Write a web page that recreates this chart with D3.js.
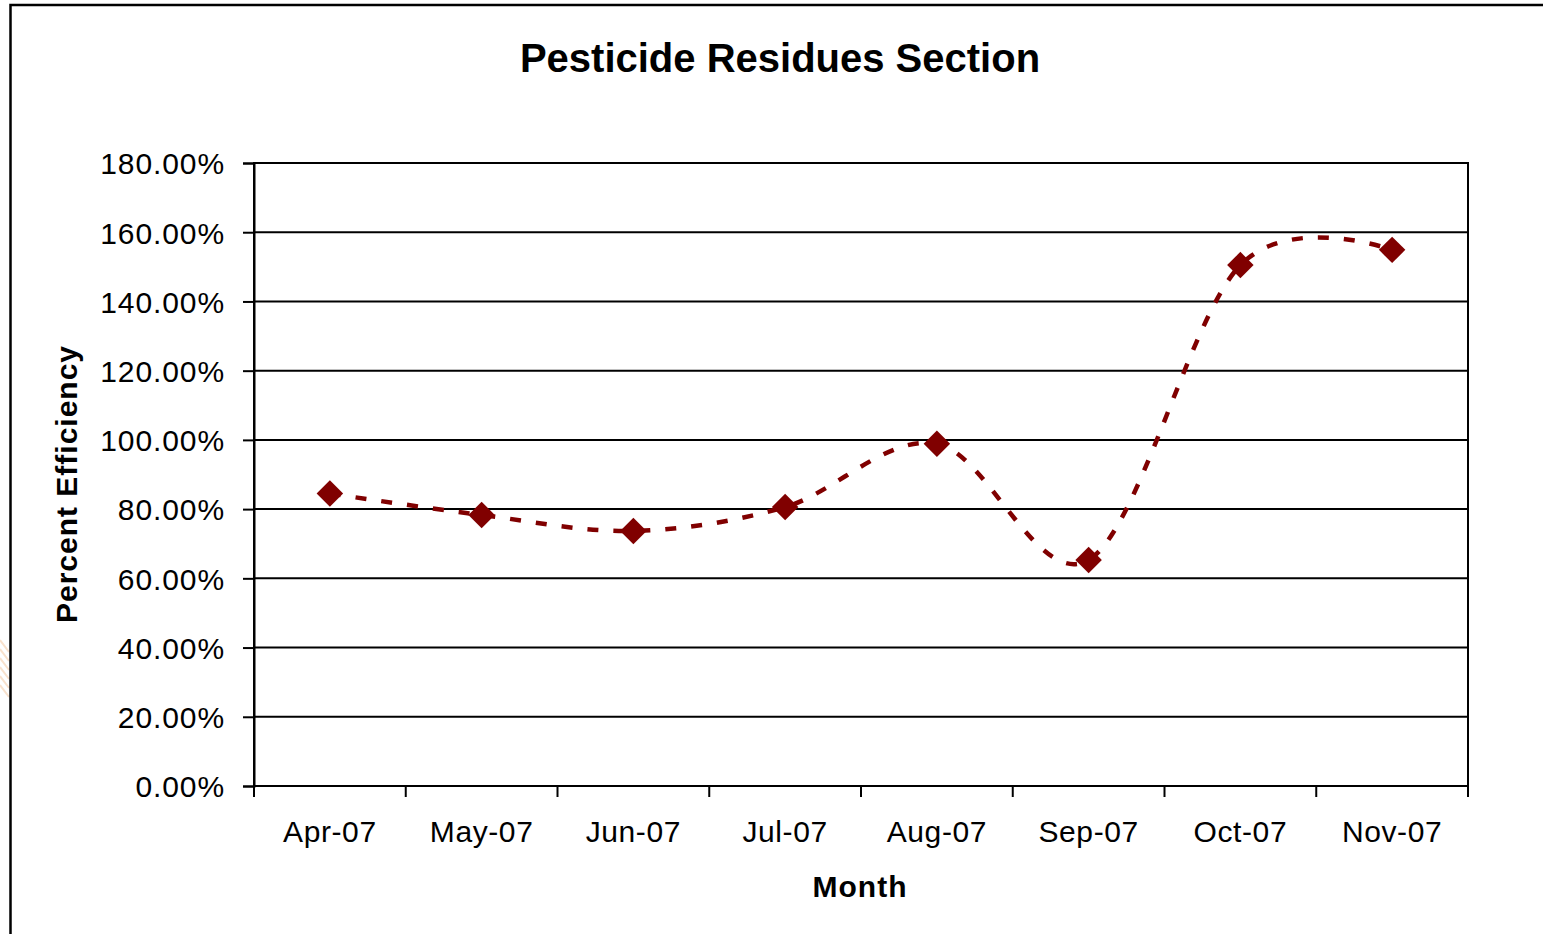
<!DOCTYPE html>
<html>
<head>
<meta charset="utf-8">
<script src="https://cdn.jsdelivr.net/npm/d3@7"></script>
<style>
  html, body { margin: 0; padding: 0; background: #fff; }
  svg { display: block; font-family: "Liberation Sans", Arial, sans-serif; }
</style>
</head>
<body>
<svg id="chart" width="1543" height="934"></svg>
<script>
// Monthly efficiency of the pesticide residues section (percent)
const months = ["Apr-07", "May-07", "Jun-07", "Jul-07", "Aug-07", "Sep-07", "Oct-07", "Nov-07"];
const efficiency = [84.5, 78.3, 73.7, 80.6, 98.9, 65.3, 150.5, 154.9];
const yTicks = [0, 20, 40, 60, 80, 100, 120, 140, 160, 180];

const svg = d3.select("#chart");
const W = 1543, H = 934;
const plot = { left: 254, right: 1468, top: 163, bottom: 786 };
const lineColor = "#800000";

svg.append("rect").attr("width", W).attr("height", H).attr("fill", "#fff");

// Faint decorative streaks of the slide background peeking in at the left edge
const streaks = d3.range(6);
svg.append("g").selectAll("line").data(streaks).join("line")
  .attr("x1", 0).attr("x2", 9)
  .attr("y1", d => 640 + d * 9).attr("y2", d => 652 + d * 9)
  .attr("stroke", "#f3c9a3").attr("stroke-width", 2).attr("opacity", 0.55);

// Outer chart frame (right and bottom edges run off the page)
svg.append("path")
  .attr("d", `M10.5,${H + 2} L10.5,5 L${W + 2},5`)
  .attr("fill", "none").attr("stroke", "#000").attr("stroke-width", 2.5);

const x = d3.scaleBand().domain(months).range([plot.left, plot.right]).padding(0);
const y = d3.scaleLinear().domain([0, 180]).range([plot.bottom, plot.top]);

// Horizontal gridlines
svg.append("g").selectAll("line").data(yTicks).join("line")
  .attr("x1", plot.left).attr("x2", plot.right)
  .attr("y1", d => y(d)).attr("y2", d => y(d))
  .attr("stroke", "#000").attr("stroke-width", 2);

// Plot-area frame
svg.append("rect")
  .attr("x", plot.left).attr("y", plot.top)
  .attr("width", plot.right - plot.left).attr("height", plot.bottom - plot.top)
  .attr("fill", "none").attr("stroke", "#000").attr("stroke-width", 2);

// Y axis
const yAxis = svg.append("g")
  .attr("transform", `translate(${plot.left},0)`)
  .call(d3.axisLeft(y).tickValues(yTicks).tickSize(11).tickPadding(18)
    .tickFormat(d => d.toFixed(2) + "%"));
yAxis.select(".domain").attr("stroke", "#000").attr("stroke-width", 2);
yAxis.selectAll(".tick line").attr("stroke", "#000").attr("stroke-width", 2);
yAxis.selectAll(".tick text")
  .attr("fill", "#000").attr("font-size", 30).attr("dy", "0.36em")
  .style("letter-spacing", "0.9px")
  .attr("font-family", "'Liberation Sans', Arial, sans-serif");

// X axis: tick marks on category boundaries, labels at category centres
const boundaries = months.map(m => x(m)).concat([x.range()[1]]);
svg.append("g").selectAll("line").data(boundaries).join("line")
  .attr("x1", d => d).attr("x2", d => d)
  .attr("y1", plot.bottom).attr("y2", plot.bottom + 11)
  .attr("stroke", "#000").attr("stroke-width", 2);
svg.append("g").selectAll("text").data(months).join("text")
  .attr("x", d => x(d) + x.bandwidth() / 2)
  .attr("y", 842)
  .attr("text-anchor", "middle")
  .attr("font-size", 30)
  .style("letter-spacing", "0.6px")
  .text(d => d);

// Smoothed dashed series line
const line = d3.line()
  .x((d, i) => x(months[i]) + x.bandwidth() / 2)
  .y(d => y(d))
  .curve(d3.curveCardinal.tension(0));
svg.append("path")
  .datum(efficiency)
  .attr("d", line)
  .attr("fill", "none")
  .attr("stroke", lineColor)
  .attr("stroke-width", 4.5)
  .attr("stroke-dasharray", "11,15");

// Diamond markers
svg.append("g").selectAll("path").data(efficiency).join("path")
  .attr("transform", (d, i) =>
    `translate(${x(months[i]) + x.bandwidth() / 2},${y(d)}) rotate(45)`)
  .attr("d", d3.symbol().type(d3.symbolSquare).size(350))
  .attr("fill", lineColor);

// Titles
svg.append("text")
  .attr("x", 780).attr("y", 72)
  .attr("text-anchor", "middle")
  .attr("font-size", 40).attr("font-weight", "bold")
  .text("Pesticide Residues Section");

svg.append("text")
  .attr("x", 860).attr("y", 897)
  .attr("text-anchor", "middle")
  .attr("font-size", 30).attr("font-weight", "bold")
  .style("letter-spacing", "1px")
  .text("Month");

svg.append("text")
  .attr("transform", "translate(77,484) rotate(-90)")
  .attr("text-anchor", "middle")
  .attr("font-size", 30).attr("font-weight", "bold")
  .style("letter-spacing", "1px")
  .text("Percent Efficiency");
</script>
</body>
</html>
